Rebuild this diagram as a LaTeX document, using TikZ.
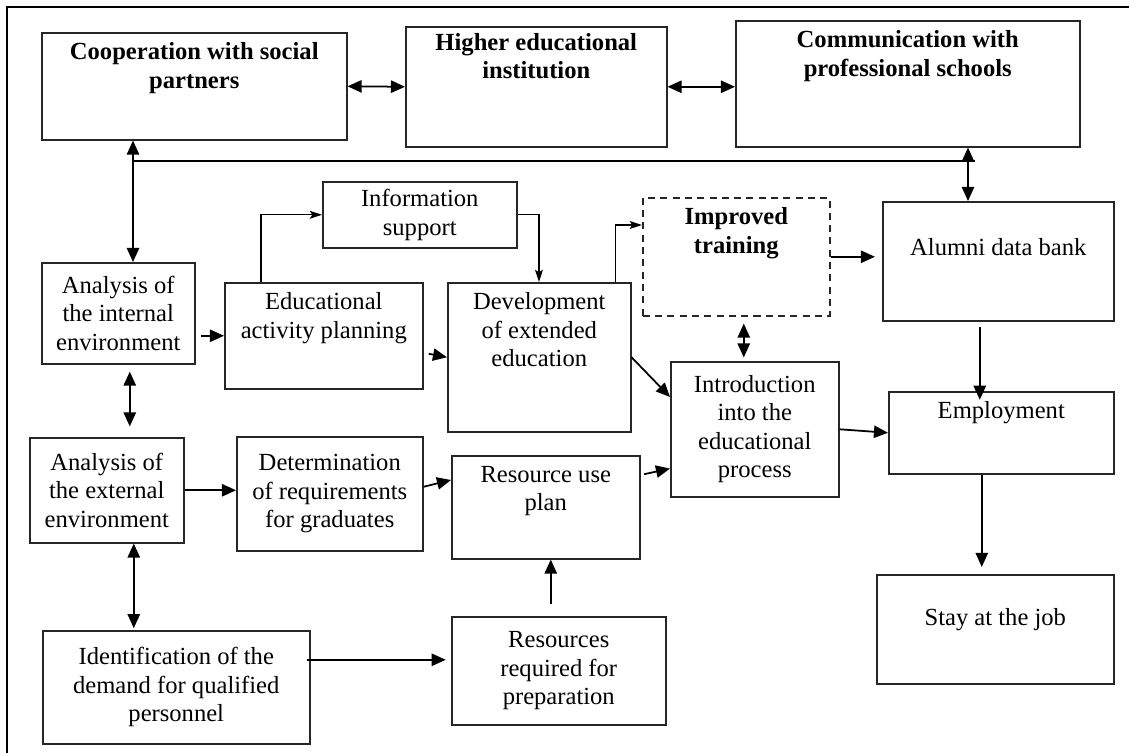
\documentclass[tikz,border=0pt]{standalone}
\usepackage{fontspec}
\setmainfont{Liberation Serif}
\usetikzlibrary{arrows.meta}
\newcommand{\diafont}{\fontsize{14pt}{16.2pt}\selectfont}
\tikzset{
  box/.style={draw=black!85, line width=0.9pt, anchor=north west, align=center, inner sep=1pt},
  lbl/.style={anchor=north, align=center, inner sep=6pt, font=\diafont},
  lblb/.style={lbl, font=\diafont\bfseries},
  arr/.style={line width=1pt, -{Triangle[length=8pt,width=7pt]}},
  dbl/.style={line width=1pt, {Triangle[length=8pt,width=7pt]}-{Triangle[length=8pt,width=7pt]}},
  thinarr/.style={line width=0.7pt, -{Stealth[length=7pt,width=4.5pt,inset=1.5pt]}}
}

\begin{document}
\begin{tikzpicture}[x=0.02cm, y=-0.02cm, font=\diafont]
\useasboundingbox (0,0) rectangle (1129,753);
\draw[line width=1.3pt] (7,753) -- (7,7) -- (1129,7);

\node[box, minimum width=6.10cm, minimum height=2.14cm, label={[lblb]north:Cooperation with social\\partners}] (coop) at (41,32) {};
\node[box, minimum width=5.22cm, minimum height=2.40cm, label={[lblb, inner sep=4pt]north:Higher educational\\institution}] (hei) at (405,26) {};
\node[box, minimum width=6.88cm, minimum height=2.52cm, label={[lblb]north:Communication with\\professional schools}] (comm) at (735,20) {};
\node[box, minimum width=3.88cm, minimum height=1.32cm, inner sep=0pt] (info) at (322,181) {Information\\support};
\node[box, dash pattern=on 4pt off 3pt, minimum width=3.74cm, minimum height=2.36cm, label={[lblb]north:Improved\\training}] (imp) at (642,197) {};
\node[box, minimum width=4.62cm, minimum height=2.38cm, label={[lbl, yshift=-0.54cm]north:Alumni data bank}] (alum) at (882,201) {};
\node[box, minimum width=3.06cm, minimum height=2.02cm] (intA) at (41,262) {Analysis of\\the internal\\environment};
\node[box, minimum width=3.96cm, minimum height=2.12cm, label={[lbl]north:Educational\\activity planning}] (edu) at (224,282) {};
\node[box, minimum width=3.66cm, minimum height=2.98cm, label={[lbl]north:Development\\of extended\\education}] (dev) at (447,282) {};
\node[box, minimum width=3.36cm, minimum height=2.70cm] (intro) at (670,361) {Introduction\\into the\\educational\\process};
\node[box, minimum width=4.50cm, minimum height=1.64cm, label={[lbl]north:Employment}] (emp) at (888,391) {};
\node[box, minimum width=3.08cm, minimum height=2.10cm] (extA) at (29,437) {Analysis of\\the external\\environment};
\node[box, minimum width=3.72cm, minimum height=2.28cm] (det) at (236,436) {Determination\\of requirements\\for graduates};
\node[box, minimum width=3.76cm, minimum height=2.06cm, label={[lbl]north:Resource use\\plan}] (rup) at (451,455) {};
\node[box, minimum width=5.34cm, minimum height=2.26cm] (idf) at (42,630) {Identification of the\\demand for qualified\\personnel};
\node[box, minimum width=4.28cm, minimum height=2.16cm] (rrq) at (451,616) {Resources\\required for\\preparation};
\node[box, minimum width=4.74cm, minimum height=2.18cm, label={[lbl, yshift=-0.48cm]north:Stay at the job}] (stay) at (876,574) {};

\coordinate (busL) at (133,161);
\coordinate (busV) at (968,161);
\coordinate (busR) at (975,161);
\draw[line width=1pt] (busL) -- (busR);
\draw[dbl] (busL |- coop.south) -- (busL |- intA.north);
\draw[dbl] (busV |- comm.south) -- (busV |- alum.north);
\draw[dbl] (coop.east) -- (hei.west);
\draw[dbl] (hei.east) -- (hei.east -| comm.west);
\draw[arr, shorten <=3pt] (intA.east |- edu.west) -- (edu.west);
\draw[thinarr] ([xshift=0.74cm]edu.north west) |- (info.west);
\draw[thinarr] (info.east) -| ([xshift=1.84cm]dev.north west);
\draw[arr, shorten <=3pt] ([yshift=-0.34cm]edu.east) -- (dev.west);
\draw[thinarr] ([xshift=-0.32cm]dev.north east) |- ([yshift=-0.56cm]imp.north west);
\draw[arr, shorten >=4pt] (imp.east) -- (imp.east -| alum.west);
\draw[dbl, shorten <=4pt, shorten >=2pt] ([xshift=0.15cm]imp.south) -- ([xshift=0.15cm]imp.south |- intro.north);
\draw[arr] (dev.east) -- ([yshift=-0.72cm]intro.north west);
\draw[arr, shorten <=2pt] ([yshift=-0.4cm]rup.north east) -- ([yshift=0.58cm]intro.south west);
\draw[arr] (intro.east) -- (emp.west);
\draw[arr, shorten <=3pt, shorten >=-5pt] ([xshift=-0.37cm]alum.south) -- ([xshift=-0.37cm]alum.south |- emp.north);
\draw[arr, shorten >=4pt] ([xshift=-0.39cm]emp.south) -- ([xshift=-0.39cm]emp.south |- stay.north);
\draw[dbl, shorten <=4pt, shorten >=6pt] ([xshift=0.23cm]intA.south) -- ([xshift=0.23cm]intA.south |- extA.north);
\draw[arr] (extA.east) -- (extA.east -| det.west);
\draw[arr] ([yshift=0.14cm]det.east) -- ([yshift=-0.5cm]rup.north west);
\draw[dbl, shorten >=1pt] ([xshift=0.54cm]extA.south) -- ([xshift=0.54cm]extA.south |- idf.north);
\draw[arr, shorten >=3pt] ([xshift=-0.08cm, yshift=0.55cm]idf.east) -- ([yshift=0.55cm]idf.east -| rrq.west);
\draw[arr, shorten <=7pt] ([xshift=-0.16cm]rrq.north) -- ([xshift=-0.16cm]rrq.north |- rup.south);
\end{tikzpicture}
\end{document}
